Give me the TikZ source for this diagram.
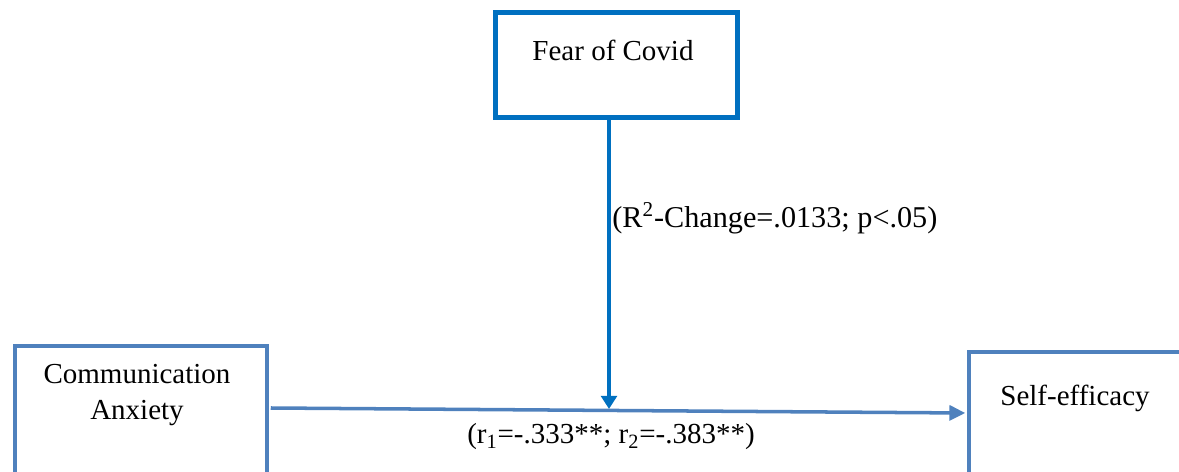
\documentclass[tikz,border=0pt]{standalone}
\usepackage{fontspec}
\setmainfont{Liberation Serif}
\usetikzlibrary{arrows.meta}

\begin{document}
\begin{tikzpicture}[x=0.02cm,y=-0.02cm,
  varbox/.style={draw,rectangle,anchor=north west,inner sep=0},
  vartext/.style={font=\fontsize{16.5}{21}\selectfont,align=center},
  pathtext/.style={font=\fontsize{16.5}{21}\selectfont,inner sep=0}]
\definecolor{brightblue}{HTML}{0070C0}
\definecolor{steelblue}{HTML}{4F81BD}
\useasboundingbox (0,0) rectangle (1179,472);
\clip (0,0) rectangle (1179,472);
\node [varbox,draw=brightblue,line width=2.85pt,minimum width=4.86cm,minimum height=2.1cm] (fear) at (492.5,10) {};
\node [varbox,draw=steelblue,line width=2.3pt,minimum width=5.05cm,minimum height=4cm] (anxiety) at (12.5,344) {};
\node [varbox,draw=steelblue,line width=2.3pt,minimum width=6cm,minimum height=4cm] (efficacy) at (967,350) {};
  \foreach \txt/\pos in {Fear of Covid/{613,50},Communication\\Anxiety/{137,395},Self-efficacy/{1075,398}}
  {  \node [vartext] () at (\pos) {\txt};}
\coordinate (join) at (609,409);
\coordinate (outA) at (anxiety.north east |- 0,408);
\coordinate (inE) at (efficacy.north west |- 0,413);
\draw [brightblue,line width=2.6pt,-{Triangle[length=7.5pt,width=9pt]}] (fear.south -| join) -- (join);
\draw [steelblue,line width=2pt,-{Triangle[length=9pt,width=8.5pt]}] ([xshift=1pt]outA) -- ([xshift=-1pt]inE);
\node [pathtext,font=\fontsize{17.2}{21}\selectfont,anchor=west] (rchange) at (612,218) {(R\textsuperscript{2}-Change=.0133; p<.05)};
\node [pathtext] (corr) at (611,437) {(r\textsubscript{1}=-.333**; r\textsubscript{2}=-.383**)};
\end{tikzpicture}
\end{document}
